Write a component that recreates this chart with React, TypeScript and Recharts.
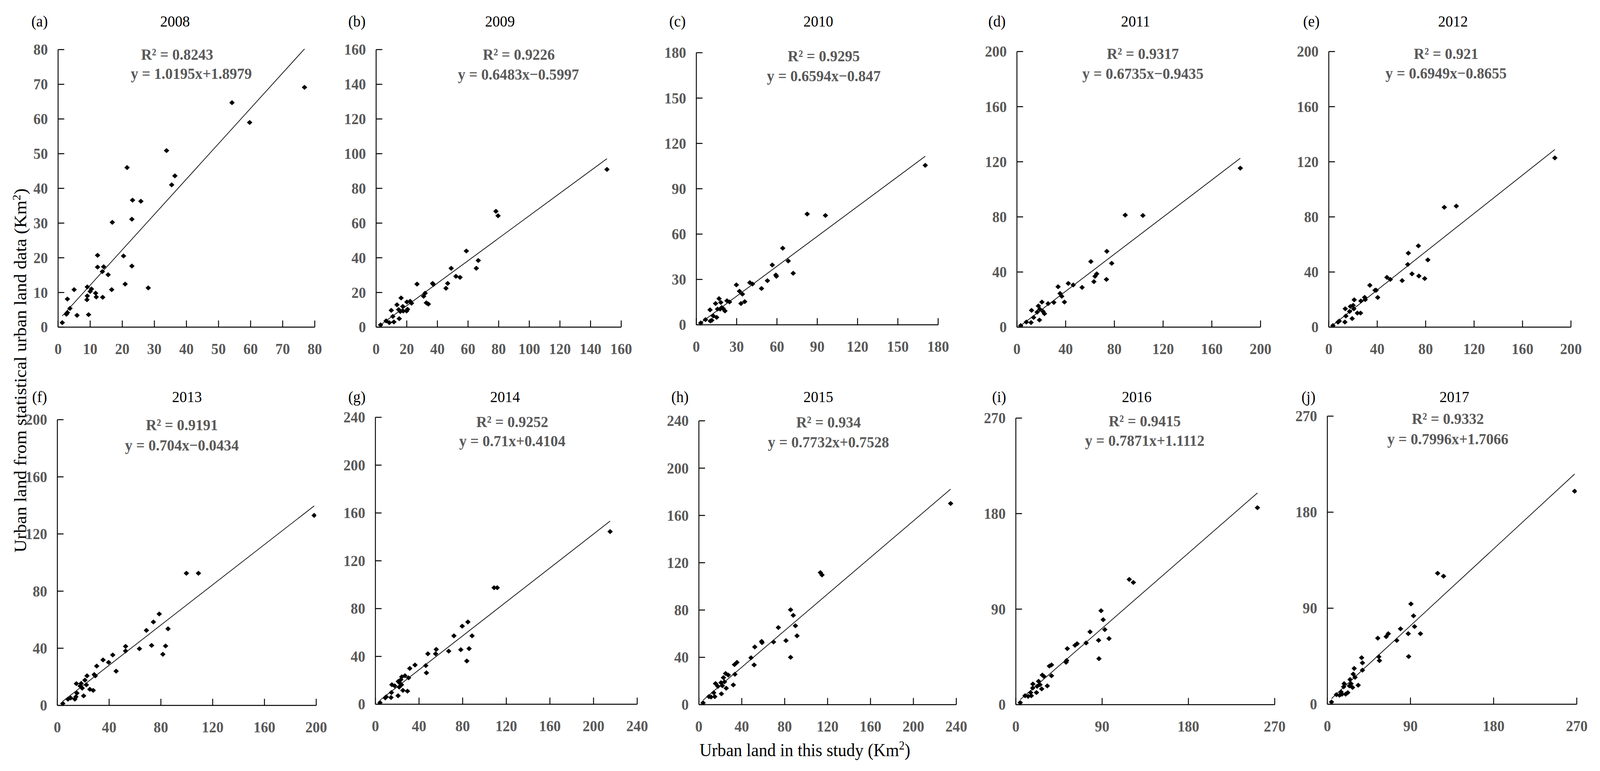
import React from 'react';
import { ScatterChart, Scatter, XAxis, YAxis, ReferenceLine } from 'recharts';

const FONT = '"Liberation Serif", "Times New Roman", serif';
const GRAY = '#595959';
const PAGE_W = 4407;
const PAGE_H = 1975;

// ---- data ----
const PANEL_LETTERS = ['(a)', '(b)', '(c)', '(d)', '(e)', '(f)', '(g)', '(h)', '(i)', '(j)'];
const YEARS = ['2008', '2009', '2010', '2011', '2012', '2013', '2014', '2015', '2016', '2017'];
const R2_LABELS = [
  'R² = 0.8243', 'R² = 0.9226', 'R² = 0.9295', 'R² = 0.9317', 'R² = 0.921',
  'R² = 0.9191', 'R² = 0.9252', 'R² = 0.934', 'R² = 0.9415', 'R² = 0.9332',
];
const EQUATIONS = [
  'y = 1.0195x+1.8979', 'y = 0.6483x−0.5997', 'y = 0.6594x−0.847', 'y = 0.6735x−0.9435',
  'y = 0.6949x−0.8655', 'y = 0.704x−0.0434', 'y = 0.71x+0.4104', 'y = 0.7732x+0.7528',
  'y = 0.7871x+1.1112', 'y = 0.7996x+1.7066',
];
const SLOPES = [1.0195, 0.6483, 0.6594, 0.6735, 0.6949, 0.704, 0.71, 0.7732, 0.7871, 0.7996];
const INTERCEPTS = [1.8979, -0.5997, -0.847, -0.9435, -0.8655, -0.0434, 0.4104, 0.7528, 1.1112, 1.7066];

const TICKS_80 = [0, 10, 20, 30, 40, 50, 60, 70, 80];
const TICKS_160 = [0, 20, 40, 60, 80, 100, 120, 140, 160];
const TICKS_180 = [0, 30, 60, 90, 120, 150, 180];
const TICKS_200 = [0, 40, 80, 120, 160, 200];
const TICKS_240 = [0, 40, 80, 120, 160, 200, 240];
const TICKS_270 = [0, 90, 180, 270];
const AXIS_TICKS = [TICKS_80, TICKS_160, TICKS_180, TICKS_200, TICKS_200, TICKS_200, TICKS_240, TICKS_240, TICKS_270, TICKS_270];

const POINTS_2008 = [
  [1.3, 1.3], [2.9, 8.1], [2.6, 3.7], [2.9, 4.2], [3.7, 5.4], [5.0, 10.8], [5.9, 3.4], [9.1, 11.6],
  [9.1, 9.0], [9.0, 7.9], [9.5, 3.6], [10.0, 10.3], [10.4, 11.0], [11.7, 9.8], [11.9, 8.7], [12.3, 20.7],
  [12.3, 17.3], [13.8, 16.0], [13.9, 8.6], [14.2, 17.4], [15.6, 15.1], [16.7, 10.8], [16.9, 30.2],
  [20.4, 20.5], [20.9, 12.4], [21.5, 46.0], [23.0, 31.1], [23.0, 17.6], [23.2, 36.6], [25.8, 36.3],
  [28.1, 11.3], [33.8, 50.9], [35.4, 41.0], [36.4, 43.6], [54.2, 64.7], [59.7, 59.0], [76.8, 69.1],
];
const POINTS_2009 = [
  [2.9, 1.3], [6.5, 3.6], [8.6, 2.6], [9.9, 9.7], [10.9, 6.2], [11.6, 3.0], [13.6, 12.9], [14.7, 10.1],
  [15.1, 4.9], [15.8, 9.0], [16.3, 16.8], [17.4, 11.9], [17.7, 9.3], [19.9, 9.3], [20.1, 14.5],
  [20.5, 10.3], [22.2, 14.9], [23.1, 13.8], [26.7, 24.8], [31.0, 17.8], [32.0, 19.6], [32.8, 14.0],
  [34.1, 13.3], [36.9, 25.2], [37.4, 24.6], [45.6, 22.4], [46.7, 25.2], [49.0, 33.9], [52.1, 29.3],
  [54.8, 28.7], [58.9, 43.9], [65.4, 33.9], [66.7, 38.4], [78.2, 66.8], [79.6, 64.2], [150.7, 90.9],
];
const POINTS_2010 = [
  [3.3, 1.2], [6.8, 3.4], [10.2, 9.9], [10.4, 2.5], [11.5, 3.0], [12.6, 5.9], [14.3, 14.1], [15.1, 4.9],
  [15.8, 10.4], [16.9, 17.3], [17.7, 10.4], [18.2, 14.8], [18.9, 11.4], [20.0, 10.7], [21.3, 9.2],
  [22.8, 15.9], [24.7, 15.1], [29.8, 26.4], [32.1, 22.2], [33.2, 14.1], [34.3, 20.3], [36.0, 15.3],
  [39.8, 27.9], [41.8, 27.0], [48.5, 24.0], [52.9, 29.2], [56.5, 39.6], [59.2, 32.9], [59.6, 32.1],
  [64.3, 50.7], [68.4, 42.2], [72.1, 34.1], [82.5, 73.3], [96.1, 72.3], [170.4, 105.5],
];
const POINTS_2011 = [
  [3.1, 1.1], [7.7, 3.7], [11.6, 3.3], [12.0, 12.2], [13.7, 7.0], [16.6, 10.9], [17.6, 15.4], [18.5, 5.2],
  [18.8, 13.0], [20.5, 18.2], [21.4, 11.4], [22.6, 9.8], [25.6, 17.1], [30.3, 17.9], [33.8, 29.3],
  [35.4, 24.4], [36.8, 22.4], [39.0, 18.2], [42.2, 31.7], [46.2, 30.6], [53.5, 28.8], [60.7, 47.6],
  [63.2, 33.0], [64.1, 36.9], [65.5, 38.7], [73.5, 34.6], [73.8, 55.0], [77.8, 46.3], [88.9, 81.3],
  [103.4, 81.0], [183.4, 115.4],
];
const POINTS_2012 = [
  [3.4, 1.1], [7.6, 3.6], [8.6, 4.4], [13.3, 3.7], [13.6, 13.3], [14.1, 8.1], [17.2, 11.4], [17.9, 15.0],
  [19.3, 6.2], [20.1, 15.8], [20.7, 13.3], [21.0, 19.8], [23.6, 10.2], [26.2, 10.2], [26.5, 19.0],
  [29.6, 21.6], [30.1, 20.0], [33.9, 30.4], [38.2, 26.8], [39.1, 26.8], [40.4, 21.5], [48.0, 36.1],
  [50.8, 34.6], [60.6, 33.8], [65.2, 45.5], [65.7, 53.7], [68.7, 38.7], [74.0, 59.0], [74.4, 37.1],
  [79.2, 35.3], [81.8, 48.8], [95.4, 87.0], [105.3, 87.8], [186.7, 122.8],
];
const POINTS_2013 = [
  [4.2, 1.3], [8.2, 4.4], [10.3, 5.2], [13.5, 4.4], [14.3, 6.0], [14.7, 15.2], [15.1, 8.6], [17.6, 13.6],
  [18.4, 15.4], [19.2, 12.1], [20.3, 6.7], [21.3, 17.7], [22.4, 14.4], [22.9, 20.7], [25.1, 11.3],
  [27.7, 10.5], [28.5, 21.6], [29.3, 20.7], [30.4, 27.5], [35.3, 31.8], [39.6, 30.1], [42.8, 35.3],
  [45.4, 24.0], [52.7, 38.1], [52.7, 41.3], [63.4, 39.7], [68.8, 52.5], [72.8, 42.0], [74.2, 58.4],
  [78.7, 64.0], [81.5, 35.8], [83.6, 41.6], [85.5, 53.6], [99.7, 92.5], [109.0, 92.5], [198.4, 133.0],
];
const POINTS_2014 = [
  [4.2, 1.3], [9.0, 5.3], [9.9, 6.2], [14.3, 5.6], [14.7, 9.8], [15.1, 16.3], [17.6, 15.4], [20.8, 7.1],
  [21.0, 19.1], [21.8, 14.4], [22.3, 17.8], [23.3, 20.6], [23.9, 16.3], [24.2, 22.9], [25.2, 11.6],
  [27.1, 23.8], [29.4, 10.9], [30.4, 22.1], [31.5, 30.0], [36.3, 32.8], [46.2, 32.3], [46.8, 26.3],
  [48.1, 42.2], [55.2, 42.2], [55.8, 45.9], [67.2, 44.4], [72.0, 57.2], [78.3, 45.6], [79.6, 65.3],
  [83.8, 36.2], [84.8, 68.8], [85.9, 46.5], [88.6, 57.2], [108.8, 97.5], [111.7, 97.5], [215.2, 144.4],
];
const POINTS_2015 = [
  [3.9, 1.5], [9.3, 6.8], [11.3, 6.4], [13.8, 10.1], [14.8, 6.8], [15.5, 17.8], [17.7, 15.4], [20.6, 18.6],
  [21.0, 9.2], [21.9, 16.0], [22.9, 22.9], [23.9, 19.3], [24.9, 26.3], [25.5, 13.9], [27.4, 25.0],
  [32.1, 16.7], [33.2, 33.8], [33.6, 25.7], [35.5, 35.7], [48.6, 39.6], [51.5, 33.6], [52.1, 48.8],
  [58.5, 53.5], [58.9, 52.4], [69.6, 53.0], [74.1, 65.2], [81.2, 54.1], [85.5, 80.2], [85.5, 40.0],
  [88.0, 75.5], [90.0, 66.7], [91.5, 58.2], [113.3, 111.7], [114.8, 109.7], [234.7, 170.1],
];
const POINTS_2016 = [
  [4.6, 1.9], [9.6, 8.4], [12.8, 7.8], [15.4, 11.4], [16.1, 8.4], [17.6, 15.6], [17.8, 19.4], [21.5, 11.4],
  [22.2, 17.3], [23.7, 22.0], [25.2, 18.8], [27.0, 14.8], [27.6, 27.9], [29.1, 26.8], [32.8, 17.7],
  [35.0, 36.3], [37.2, 37.4], [37.2, 27.2], [52.4, 39.9], [53.0, 41.6], [53.7, 52.8], [61.7, 55.9],
  [63.9, 57.4], [73.3, 58.1], [77.4, 68.6], [86.3, 60.6], [86.7, 43.3], [88.9, 88.5], [91.1, 80.0],
  [92.8, 70.7], [97.2, 62.3], [118.3, 118.0], [122.6, 115.1], [252.0, 185.6],
];
const POINTS_2017 = [
  [4.5, 2.1], [9.8, 9.0], [13.2, 8.4], [14.8, 11.5], [15.9, 9.4], [17.7, 16.4], [18.2, 19.3], [19.8, 9.4],
  [22.1, 10.9], [23.9, 17.2], [24.6, 23.1], [25.7, 19.3], [27.3, 15.7], [28.0, 28.3], [29.1, 33.6],
  [30.0, 25.2], [33.4, 17.8], [37.1, 43.6], [38.0, 38.8], [38.0, 31.9], [54.6, 61.9], [55.7, 44.5],
  [56.4, 40.9], [63.7, 63.4], [66.0, 66.1], [75.1, 59.8], [79.2, 70.7], [87.6, 66.1], [88.0, 44.7],
  [90.5, 94.0], [93.3, 82.9], [94.4, 72.8], [100.8, 66.1], [119.4, 122.7], [125.8, 120.0], [267.7, 199.7],
];
const POINTS = [
  POINTS_2008, POINTS_2009, POINTS_2010, POINTS_2011, POINTS_2012,
  POINTS_2013, POINTS_2014, POINTS_2015, POINTS_2016, POINTS_2017,
];

// ---- page layout (px): plot box + text centres ----
const LAYOUT = [
  { l: 160, t: 127, r: 867, b: 838, letter: [109, 55], year: [482, 55], r2: [488, 140], eq: [527, 189] },
  { l: 1036, t: 127, r: 1711, b: 838, letter: [983, 55], year: [1377, 55], r2: [1429, 140], eq: [1428, 191] },
  { l: 1918, t: 135, r: 2584, b: 832, letter: [1866, 55], year: [2254, 55], r2: [2269, 144], eq: [2269, 195] },
  { l: 2801, t: 132, r: 3472, b: 838, letter: [2746, 55], year: [3128, 55], r2: [3148, 138], eq: [3148, 189] },
  { l: 3660, t: 132, r: 4327, b: 838, letter: [3612, 55], year: [4002, 55], r2: [3983, 138], eq: [3983, 188] },
  { l: 158, t: 1075, r: 871, b: 1807, letter: [109, 1017], year: [515, 1017], r2: [501, 1089], eq: [501, 1141] },
  { l: 1034, t: 1069, r: 1755, b: 1804, letter: [983, 1017], year: [1391, 1017], r2: [1411, 1081], eq: [1411, 1130] },
  { l: 1925, t: 1078, r: 2634, b: 1805, letter: [1873, 1017], year: [2254, 1017], r2: [2282, 1082], eq: [2282, 1133] },
  { l: 2798, t: 1071, r: 3511, b: 1805, letter: [2752, 1017], year: [3131, 1017], r2: [3153, 1079], eq: [3153, 1129] },
  { l: 3656, t: 1066, r: 4343, b: 1804, letter: [3604, 1017], year: [4006, 1017], r2: [3988, 1073], eq: [3988, 1125] },
];

const Y_AXIS_W = 140;
const X_AXIS_H = 100;
const M_TOP = 60;
const M_RIGHT = 45;

const YTick = (props: any) => {
  const { x, y, payload } = props;
  return (
    <g>
      <line x1={x} y1={y} x2={x + 17} y2={y} stroke="#000" strokeWidth={2.5} />
      <text x={x - 28} y={y} textAnchor="end" dominantBaseline="central" fontFamily={FONT}
        fontWeight="bold" fontSize={40} fill={GRAY}>
        {payload.value}
      </text>
    </g>
  );
};

const XTick = (props: any) => {
  const { x, y, payload } = props;
  return (
    <g>
      <line x1={x} y1={y} x2={x} y2={y - 17} stroke="#000" strokeWidth={2.5} />
      <text x={x} y={y + 56} textAnchor="middle" dominantBaseline="central" fontFamily={FONT}
        fontWeight="bold" fontSize={40} fill={GRAY}>
        {payload.value}
      </text>
    </g>
  );
};

const Diamond = (props: any) => {
  const { cx, cy } = props;
  return (
    <polygon
      points={`${cx},${cy - 6.5} ${cx + 7.5},${cy} ${cx},${cy + 6.5} ${cx - 7.5},${cy}`}
      fill="#000"
    />
  );
};

const textStyle = (pos: number[], bold: boolean): React.CSSProperties => ({
  position: 'absolute',
  left: pos[0],
  top: pos[1],
  transform: 'translate(-50%, -50%)',
  whiteSpace: 'nowrap',
  fontFamily: FONT,
  fontSize: 41,
  lineHeight: 1.3,
  fontWeight: bold ? 'bold' : 'normal',
  color: bold ? GRAY : '#000',
});

const Panel = ({ idx }: { idx: number }) => {
  const box = LAYOUT[idx];
  const ticks = AXIS_TICKS[idx];
  const max = ticks[ticks.length - 1];
  const data = POINTS[idx].map(([x, y]) => ({ x, y }));
  const xs = POINTS[idx].map((p) => p[0]);
  const x1 = Math.min(...xs);
  const x2 = Math.max(...xs);
  const w = box.r - box.l + Y_AXIS_W + M_RIGHT;
  const h = box.b - box.t + M_TOP + X_AXIS_H;

  return (
    <>
      <div style={{ position: 'absolute', left: box.l - Y_AXIS_W, top: box.t - M_TOP }}>
        <ScatterChart width={w} height={h} margin={{ top: M_TOP, right: M_RIGHT, left: 0, bottom: 0 }}
          style={{ overflow: 'visible' }}>
          <XAxis type="number" dataKey="x" domain={[0, max]} ticks={ticks} interval={0}
            allowDataOverflow tickSize={0} tickMargin={0} tickLine={false} height={X_AXIS_H}
            axisLine={{ stroke: '#000', strokeWidth: 2.5 }} tick={<XTick />} />
          <YAxis type="number" dataKey="y" domain={[0, max]} ticks={ticks} interval={0}
            allowDataOverflow tickSize={0} tickMargin={0} tickLine={false} width={Y_AXIS_W}
            axisLine={{ stroke: '#000', strokeWidth: 2.5 }} tick={<YTick />} />
          <ReferenceLine
            segment={[
              { x: x1, y: SLOPES[idx] * x1 + INTERCEPTS[idx] },
              { x: x2, y: SLOPES[idx] * x2 + INTERCEPTS[idx] },
            ]}
            stroke="#000" strokeWidth={1.8} ifOverflow="visible"
          />
          <Scatter data={data} shape={<Diamond />} isAnimationActive={false} />
        </ScatterChart>
      </div>
      <div style={textStyle(box.letter, false)}>{PANEL_LETTERS[idx]}</div>
      <div style={textStyle(box.year, false)}>{YEARS[idx]}</div>
      <div style={textStyle(box.r2, true)}>{R2_LABELS[idx]}</div>
      <div style={textStyle(box.eq, true)}>{EQUATIONS[idx]}</div>
    </>
  );
};

export default function App() {
  // the browser window can come out narrower than the figure; squeeze horizontally to fit
  const vw = typeof window !== 'undefined' ? window.innerWidth : PAGE_W;
  const sx = vw < PAGE_W ? vw / PAGE_W : 1;
  return (
    <div style={{
      position: 'absolute', left: 0, top: 0, width: PAGE_W, height: PAGE_H, background: '#fff',
      overflow: 'hidden', transform: `scaleX(${sx})`, transformOrigin: '0 0',
    }}>
      {YEARS.map((_, i) => (
        <Panel key={i} idx={i} />
      ))}
      <div style={{
        position: 'absolute', left: 57, top: 949, transform: 'translate(-50%, -50%) rotate(-90deg)',
        whiteSpace: 'nowrap', fontFamily: FONT, fontSize: 47, lineHeight: 1.4, color: '#000',
      }}>
        Urban land from statistical urban land data (Km<sup style={{ fontSize: '0.65em', lineHeight: 0 }}>2</sup>)
      </div>
      <div style={{
        position: 'absolute', left: 2217, top: 1922, transform: 'translate(-50%, -50%)',
        whiteSpace: 'nowrap', fontFamily: FONT, fontSize: 47, lineHeight: 1.4, color: '#000',
      }}>
        Urban land in this study (Km<sup style={{ fontSize: '0.65em', lineHeight: 0 }}>2</sup>)
      </div>
    </div>
  );
}
